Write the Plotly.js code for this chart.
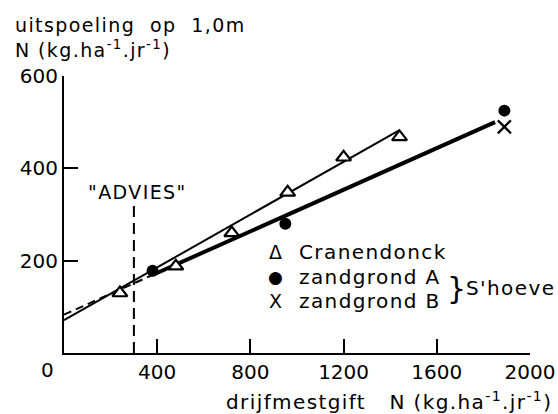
<!DOCTYPE html>
<html>
<head>
<meta charset="utf-8">
<script src="https://cdn.plot.ly/plotly-3.0.1.min.js"></script>
<style>
html,body{margin:0;padding:0;background:#fff;}
#chart{width:558px;height:414px;}
text.annotation-text{letter-spacing:1.4px;}
</style>
</head>
<body>
<div id="chart"></div>
<script>
// ---- data ----
var crX = [240, 480, 720, 960, 1200, 1440];          // Cranendonck
var crY = [130, 188, 260, 348, 424, 468];
var zaX = [380, 950, 1890];                           // zandgrond A
var zaY = [178, 280, 525];
var zbX = [1890];                                     // zandgrond B
var zbY = [490];
var crLineX = [0, 1440];                              // Cranendonck fitted line
var crLineY = [71, 483];
var shDashX = [0, 380];                               // S'hoeve line, extrapolated part
var shDashY = [83, 169];
var shLineX = [380, 1850];                            // S'hoeve line
var shLineY = [169, 500];
var adviesX = [300, 300];                             // "ADVIES" level
var adviesY = [0, 324];
var xTicks = [400, 800, 1200, 1600, 2000];
var yTicks = [200, 400, 600];
var legendLabels = ["Cranendonck", "zandgrond A", "zandgrond B"];
var legendSymbols = ["\u0394", "\u25CF", "X"];

// ---- layout geometry ----
var W = 558, H = 414;
var L = 64, R = 28, T = 76, B = 61;
var pw = W - L - R, ph = H - T - B;
function px(x){ return (x - L) / pw; }
function py(y){ return (H - B - y) / ph; }

var FONT = "DejaVu Sans, Liberation Sans, sans-serif";
var black = "#000";
var NB = "\u00A0";

var traces = [
  {x: crLineX, y: crLineY, mode: "lines", line: {color: black, width: 2}, hoverinfo: "skip"},
  {x: shDashX, y: shDashY, mode: "lines", line: {color: black, width: 2, dash: "8px,5px"}, hoverinfo: "skip"},
  {x: shLineX, y: shLineY, mode: "lines", line: {color: black, width: 4}, hoverinfo: "skip"},
  {x: adviesX, y: adviesY, mode: "lines", line: {color: black, width: 2, dash: "11px,6px"}, hoverinfo: "skip"},
  {x: crX, y: crY, mode: "markers", name: legendLabels[0],
   marker: {symbol: "triangle-up", size: 13, color: "#fff", line: {color: black, width: 2.2}}},
  {x: zaX, y: zaY, mode: "markers", name: legendLabels[1],
   marker: {symbol: "circle", size: 12, color: black, line: {width: 0}}},
  {x: zbX, y: zbY, mode: "markers", name: legendLabels[2],
   marker: {symbol: "x-thin-open", size: 13, color: black, line: {color: black, width: 2.4}}}
];

var ann = [];
function addText(text, xp, yp, anchor, size, align){
  ann.push({text: text, xref: "paper", yref: "paper", x: px(xp), y: py(yp),
            xanchor: anchor || "left", yanchor: "middle", showarrow: false,
            align: align || "center",
            font: {family: FONT, size: size || 20, color: black}});
}
// y-axis title (two lines)
addText("uitspoeling" + NB + " op" + NB + " 1,0m<br>N (kg.ha<sup>-1</sup>.jr<sup>-1</sup>)", 13, 37, "left", 19, "left");
// x-axis title
addText("drijfmestgift" + NB + NB + " N (kg.ha<sup>-1</sup>.jr<sup>-1</sup>)", 554, 401, "right", 20);
// origin label
addText("0", 48, 370, "center", 20);
// ADVIES
addText("\"ADVIES\"", 137, 192, "center", 19);
// legend
var legY = [252, 277, 301];
for (var i = 0; i < 3; i++){
  addText(legendSymbols[i], 276, legY[i], "center", i === 1 ? 17 : 19);
  addText(legendLabels[i], 297, legY[i], "left", 20);
}
addText("}", 457, 288, "center", 30);
addText("S'hoeve", 464, 288, "left", 20);

var layout = {
  width: W, height: H,
  margin: {l: L, r: R, t: T, b: B, pad: 0},
  paper_bgcolor: "#fff", plot_bgcolor: "#fff",
  showlegend: false,
  font: {family: FONT, size: 20, color: black},
  xaxis: {range: [0, 2000], tickvals: xTicks, ticktext: xTicks.map(String),
          ticks: "inside", ticklen: 14, tickwidth: 2, tickcolor: black,
          showline: true, linewidth: 2, linecolor: black, showgrid: false, zeroline: false,
          tickfont: {family: FONT, size: 20, color: black}},
  yaxis: {range: [0, 600], tickvals: yTicks, ticktext: yTicks.map(String),
          ticks: "inside", ticklen: 14, tickwidth: 2, tickcolor: black,
          showline: true, linewidth: 2, linecolor: black, showgrid: false, zeroline: false,
          tickfont: {family: FONT, size: 20, color: black}},
  annotations: ann
};

Plotly.newPlot("chart", traces, layout, {displayModeBar: false, staticPlot: true});
</script>
</body>
</html>
